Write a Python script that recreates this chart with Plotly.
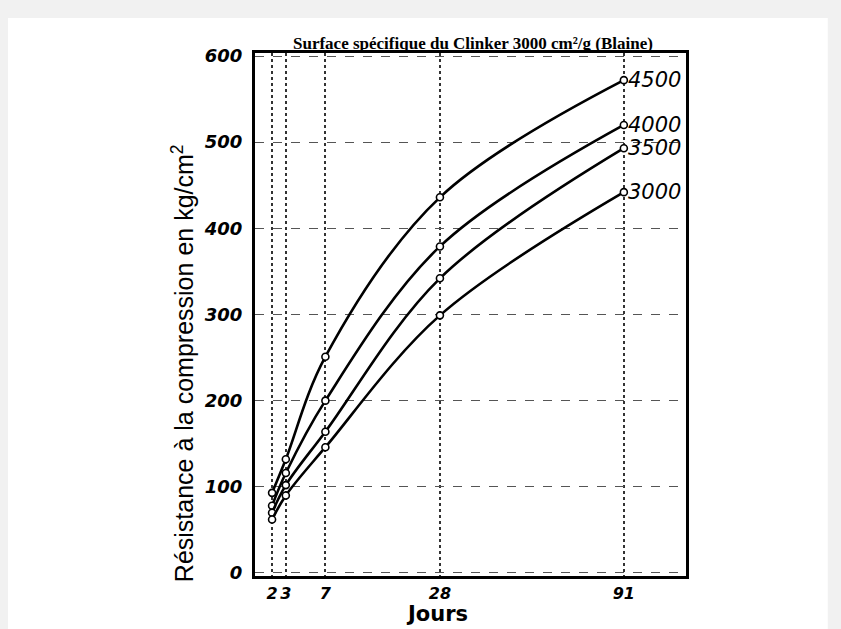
import numpy as np
import plotly.graph_objects as go

# ---- data ----
days = [2, 3, 7, 28, 91]
day_labels = ["2", "3", "7", "28", "91"]
series_names = ["4500", "4000", "3500", "3000"]
s4500 = [93, 132, 251, 436, 572]
s4000 = [78, 116, 200, 379, 520]
s3500 = [70, 102, 164, 342, 493]
s3000 = [62, 90, 146, 299, 442]
series_values = [s4500, s4000, s3500, s3000]
y_ticks = [0, 100, 200, 300, 400, 500, 600]

# square-root time scale of the original chart
xpos = np.sqrt(days)

fig = go.Figure()
for name, vals in zip(series_names, series_values):
    fig.add_trace(go.Scatter(
        x=xpos, y=vals, mode="lines+markers", name=name,
        line=dict(color="black", width=2.6, shape="spline", smoothing=1.0),
        marker=dict(symbol="circle", size=7, color="white",
                    line=dict(color="black", width=1.6)),
        showlegend=False,
    ))
    fig.add_annotation(x=xpos[-1], y=vals[-1], text="<i>" + name + "</i>",
                       xanchor="left", yanchor="middle", xshift=2, showarrow=False,
                       font=dict(family="DejaVu Sans", size=21, color="black"))

fig.update_xaxes(
    range=[1.02, 10.975], tickmode="array", tickvals=xpos, ticktext=day_labels,
    tickfont=dict(family="DejaVu Sans", size=16, color="black", weight="bold", style="italic"),
    tickangle=0,
    showline=True, linecolor="black", linewidth=3, mirror=True,
    showgrid=True, gridcolor="#333333", griddash="dot", gridwidth=2,
    zeroline=False, ticks="", ticklabelstandoff=1,
)
fig.update_yaxes(
    range=[-3.5, 603.5], tickmode="array", tickvals=y_ticks,
    tickfont=dict(family="DejaVu Sans", size=18, color="black", weight="bold", style="italic"),
    showline=True, linecolor="black", linewidth=3, mirror=True,
    showgrid=True, gridcolor="#555555", griddash="dash", gridwidth=1,
    zeroline=False, ticks="", ticklabelstandoff=6,
)

fig.add_annotation(xref="paper", yref="paper", x=0.506, y=1.019,
                   text="<b>Surface spécifique du Clinker 3000 cm²/g (Blaine)</b>",
                   showarrow=False, xanchor="center", yanchor="middle",
                   font=dict(family="Liberation Serif", size=17, color="black"))
fig.add_annotation(xref="paper", yref="paper", x=0.422, y=-0.0727,
                   text="<b>Jours</b>", showarrow=False, xanchor="center", yanchor="middle",
                   font=dict(family="DejaVu Sans", size=21, color="black"))
fig.add_annotation(xref="paper", yref="paper", x=-0.167, y=0.407,
                   text="Résistance à la compression en kg/cm<sup>2</sup>", textangle=-90,
                   showarrow=False, xanchor="center", yanchor="middle",
                   font=dict(family="Liberation Sans", size=25, color="black"))

# light grey page border like the scanned picture
fig.add_shape(type="rect", xref="paper", yref="paper", layer="below",
              x0=-0.573, x1=1.329, y0=-0.12, y1=1.067,
              fillcolor="white", line=dict(width=0))

fig.update_layout(
    width=841, height=629,
    margin=dict(l=255, r=155, t=53, b=53),
    paper_bgcolor="#f1f1f1", plot_bgcolor="white",
)

fig.write_html("out.html", config={"displayModeBar": False},
               post_script="document.body.style.margin='0';document.body.style.overflow='hidden';")
